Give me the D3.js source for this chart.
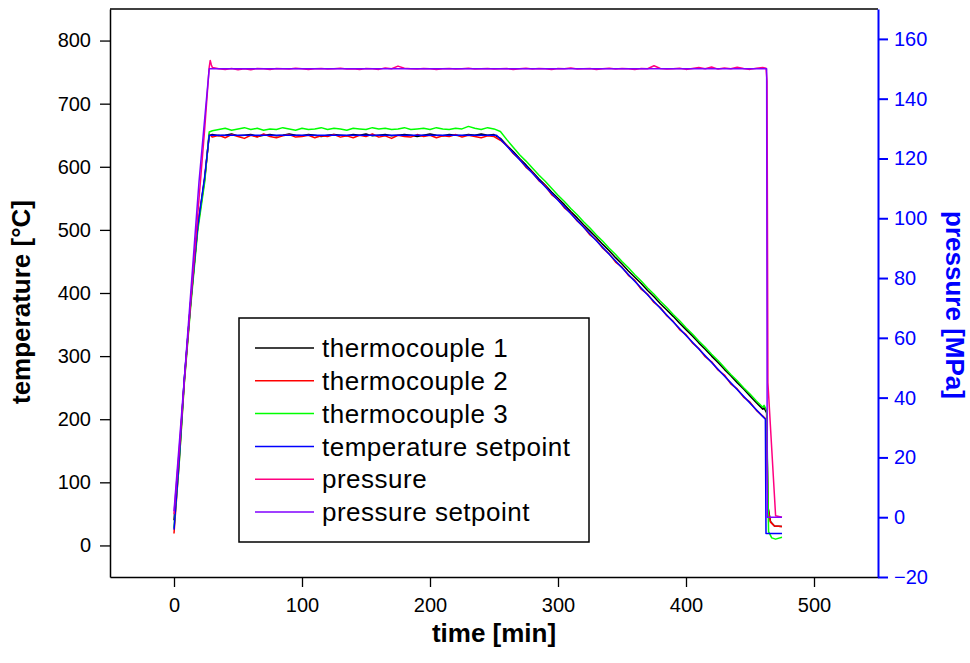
<!DOCTYPE html>
<html>
<head>
<meta charset="utf-8">
<script src="https://cdn.jsdelivr.net/npm/d3@7"></script>
<style>
  body { margin: 0; background: #fff; }
  svg text { font-family: "Liberation Sans", Arial, sans-serif; }
</style>
</head>
<body>
<svg id="chart"></svg>
<script>
// heating ramp, shared by all temperature / pressure curves
const rampTime = [0, 4, 8, 13, 18.5, 24, 27.5]

// 5 minute grid for the hold and the cooling ramp
const gridTime = [
    30, 35, 40, 45, 50, 55, 60, 65, 70, 75,
    80, 85, 90, 95, 100, 105, 110, 115, 120, 125,
    130, 135, 140, 145, 150, 155, 160, 165, 170, 175,
    180, 185, 190, 195, 200, 205, 210, 215, 220, 225,
    230, 235, 240, 245, 250, 255, 260, 265, 270, 275,
    280, 285, 290, 295, 300, 305, 310, 315, 320, 325,
    330, 335, 340, 345, 350, 355, 360, 365, 370, 375,
    380, 385, 390, 395, 400, 405, 410, 415, 420, 425,
    430, 435, 440, 445, 450, 455, 460
]

// thermocouple 1
const tc1Ramp = [40, 138, 262, 385, 505, 582, 650]
const tc1Grid = [
    651, 649, 650, 652, 649, 650, 651, 648, 650, 651,
    649, 650, 652, 650, 649, 651, 650, 648, 650, 651,
    650, 649, 651, 650, 652, 649, 650, 651, 649, 650,
    651, 650, 648, 650, 652, 650, 649, 651, 650, 649,
    651, 650, 652, 650, 651, 645, 634, 624, 613, 603,
    592, 581, 571, 560, 550, 540, 529, 519, 508, 498,
    488, 477, 467, 456, 446, 435, 425, 415, 404, 394,
    383, 373, 363, 352, 342, 332, 321, 311, 300, 290,
    279, 269, 258, 248, 237, 226, 216
]
const tc1Tail = [[461, 218], [463, 210], [464, 62], [466, 38], [469, 31], [475, 30]]

// thermocouple 2
const tc2Ramp = [19, 130, 258, 382, 503, 580, 652]
const tc2Grid = [
    647, 650, 646, 651, 648, 645, 650, 647, 652, 648,
    646, 649, 651, 647, 648, 650, 646, 649, 648, 651,
    647, 649, 646, 650, 648, 652, 647, 649, 645, 650,
    648, 647, 651, 648, 650, 646, 649, 648, 651, 647,
    650, 648, 646, 649, 648, 642, 634, 621, 612, 599,
    591, 578, 570, 556, 548, 535, 527, 514, 505, 492,
    484, 471, 462, 449, 441, 428, 420, 406, 398, 385,
    377, 364, 355, 342, 334, 321, 312, 299, 291, 278,
    270, 256, 248, 235, 227, 214, 205
]
const tc2Tail = [[461, 203], [463, 199], [464, 60], [466, 37], [469, 31], [475, 30]]

// thermocouple 3
const tc3Ramp = [28, 128, 255, 378, 498, 576, 655]
const tc3Grid = [
    657, 659, 661, 658, 660, 662, 659, 661, 658, 660,
    659, 662, 660, 658, 661, 659, 660, 662, 659, 661,
    660, 658, 661, 660, 659, 662, 660, 661, 659, 660,
    662, 659, 660, 661, 659, 662, 660, 659, 661, 660,
    664, 661, 659, 662, 660, 656, 643, 631, 619, 609,
    598, 587, 577, 566, 555, 545, 534, 524, 513, 503,
    492, 482, 471, 461, 450, 440, 429, 419, 408, 398,
    387, 377, 366, 356, 345, 335, 324, 314, 303, 293,
    282, 271, 261, 250, 240, 229, 219
]
const tc3Tail = [[461, 222], [463, 214], [464.5, 22], [467, 12], [470, 10], [475, 13]]

// temperature setpoint
const tempSetpoint = [
    [0, 25], [4, 135], [8, 262], [13, 385], [18.5, 505], [24, 585], [27.5, 650],
    [252, 650], [462, 200], [462.5, 19], [475, 19]
]

// pressure (MPa)
const pressRamp = [1, 22, 45, 72, 101, 130, 150.5]
const pressPeak = [[28.3, 152.8], [29.2, 151.3]]
const pressGrid = [
    150.4, 150.0, 149.8, 150.1, 149.7, 150.0, 149.7, 150.1, 150.0, 149.8,
    150.1, 150.0, 149.9, 150.2, 150.0, 149.8, 150.0, 150.1, 149.9, 150.0,
    150.2, 149.9, 150.0, 149.8, 150.1, 150.0, 149.8, 150.3, 150.0, 150.9,
    150.2, 150.0, 149.9, 150.1, 150.0, 149.8, 150.0, 150.1, 149.9, 150.0,
    150.2, 149.9, 150.0, 150.1, 149.9, 150.0, 150.1, 149.8, 150.0, 150.2,
    149.9, 150.1, 150.0, 149.8, 150.1, 150.0, 150.3, 149.9, 150.0, 150.1,
    149.8, 150.0, 150.2, 149.9, 150.1, 150.0, 149.8, 150.1, 150.0, 151.0,
    150.1, 149.9, 150.0, 150.2, 149.8, 150.1, 150.4, 150.0, 150.6, 149.9,
    150.3, 150.0, 150.5, 150.1, 149.8, 150.2, 150.4
]
const pressTail = [[462.5, 150.2], [463.3, 146], [464, 45], [470, 0.5], [475, 0]]

// pressure setpoint
const pressSetpoint = [[0, 2], [8, 46], [19.5, 112], [27.5, 150], [463, 150], [463.5, 0], [475, 0]]

const seriesNames = ['thermocouple 1', 'thermocouple 2', 'thermocouple 3', 'temperature setpoint', 'pressure', 'pressure setpoint']
const seriesColors = ['#000000', '#ff0000', '#00ff00', '#0000ff', '#ff0080', '#8000ff']

const timeTicks = [0, 100, 200, 300, 400, 500]
const timeMinor = [-50, 50, 150, 250, 350, 450, 550]
const tempTicks = [0, 100, 200, 300, 400, 500, 600, 700, 800]
const tempMinor = [-50, 50, 150, 250, 350, 450, 550, 650, 750, 850]
const pressTicks = [-20, 0, 20, 40, 60, 80, 100, 120, 140, 160]
const pressMinor = [-10, 10, 30, 50, 70, 90, 110, 130, 150, 170]

const build = (ramp, grid, extra, tail) =>
    rampTime.map((t, i) => [t, ramp[i]])
        .concat(extra, gridTime.map((t, i) => [t, grid[i]]), tail)

const drawChart = () => {

    const width = 970
    const height = 663

    const svg = d3.select('#chart')
        .attr('width', width)
        .attr('height', height)

    const x = d3.scaleLinear().domain([-50, 550]).range([110, 878])
    const yT = d3.scaleLinear().domain([-50, 850]).range([577, 9])
    const yP = d3.scaleLinear().domain([-20, 170]).range([577, 9])

    // top frame
    svg.append('line')
        .attr('x1', x(-50)).attr('x2', x(550))
        .attr('y1', yT(850)).attr('y2', yT(850))
        .attr('stroke', '#000').attr('stroke-width', 1.5)

    // bottom axis
    const gx = svg.append('g').attr('transform', `translate(0, ${yT(-50)})`)
    gx.call(d3.axisBottom(x).tickValues(timeMinor).tickSize(5).tickFormat('').tickSizeOuter(0))
    gx.call(d3.axisBottom(x).tickValues(timeTicks).tickSize(10).tickPadding(11).tickSizeOuter(0))

    // left axis
    const gy = svg.append('g').attr('transform', `translate(${x(-50)}, 0)`)
    gy.call(d3.axisLeft(yT).tickValues(tempMinor).tickSize(5).tickFormat('').tickSizeOuter(0))
    gy.call(d3.axisLeft(yT).tickValues(tempTicks).tickSize(10).tickPadding(9).tickSizeOuter(0))

    // right axis
    const gr = svg.append('g').attr('transform', `translate(${x(550)}, 0)`)
    gr.call(d3.axisRight(yP).tickValues(pressMinor).tickSize(5).tickFormat('').tickSizeOuter(0))
    gr.call(d3.axisRight(yP).tickValues(pressTicks).tickSize(10).tickPadding(6).tickSizeOuter(0))

    svg.selectAll('.domain').attr('stroke-width', 1.5)
    svg.selectAll('.tick line').attr('stroke-width', 1.3)
    svg.selectAll('.tick text').style('font-size', '20px').attr('fill', '#000')
    gr.selectAll('.domain, .tick line').attr('stroke', '#0000ff').attr('stroke-width', 2)
    gr.selectAll('.tick text').attr('fill', '#0000ff')

    // titles
    svg.append('text')
        .attr('x', 494).attr('y', 642)
        .style('text-anchor', 'middle')
        .style('font-size', '26px').style('font-weight', 'bold')
        .text('time [min]')

    svg.append('text')
        .attr('transform', 'translate(30, 302) rotate(-90)')
        .style('text-anchor', 'middle')
        .style('font-size', '26px').style('font-weight', 'bold')
        .text('temperature [°C]')

    svg.append('text')
        .attr('transform', 'translate(946, 305) rotate(90)')
        .style('text-anchor', 'middle')
        .style('font-size', '26px').style('font-weight', 'bold')
        .attr('fill', '#0000ff')
        .text('pressure [MPa]')

    // curves
    const lineT = d3.line().x(d => x(d[0])).y(d => yT(d[1]))
    const lineP = d3.line().x(d => x(d[0])).y(d => yP(d[1]))

    const curves = [
        { data: build(tc1Ramp, tc1Grid, [], tc1Tail), gen: lineT },
        { data: build(tc2Ramp, tc2Grid, [], tc2Tail), gen: lineT },
        { data: build(tc3Ramp, tc3Grid, [], tc3Tail), gen: lineT },
        { data: tempSetpoint, gen: lineT },
        { data: build(pressRamp, pressGrid, pressPeak, pressTail), gen: lineP },
        { data: pressSetpoint, gen: lineP }
    ]

    svg.selectAll('path.curve')
        .data(curves)
        .enter()
        .append('path')
        .attr('class', 'curve')
        .attr('d', d => d.gen(d.data))
        .attr('fill', 'none')
        .attr('stroke', (d, i) => seriesColors[i])
        .attr('stroke-width', 1.5)
        .attr('stroke-linejoin', 'round')

    // legend
    const legend = svg.append('g')

    legend.append('rect')
        .attr('x', 239).attr('y', 318)
        .attr('width', 350).attr('height', 224)
        .attr('fill', '#fff')
        .attr('stroke', '#000')
        .attr('stroke-width', 1.5)

    const items = legend.selectAll('g.item')
        .data(seriesNames)
        .enter()
        .append('g')
        .attr('class', 'item')
        .attr('transform', (d, i) => `translate(0, ${348 + i * 32.8})`)

    items.append('line')
        .attr('x1', 255).attr('x2', 314)
        .attr('stroke', (d, i) => seriesColors[i])
        .attr('stroke-width', 1.5)

    items.append('text')
        .attr('x', 322)
        .attr('dy', '0.35em')
        .style('font-size', '26px')
        .style('letter-spacing', '0.5px')
        .text(d => d)
}

drawChart()
</script>
</body>
</html>
